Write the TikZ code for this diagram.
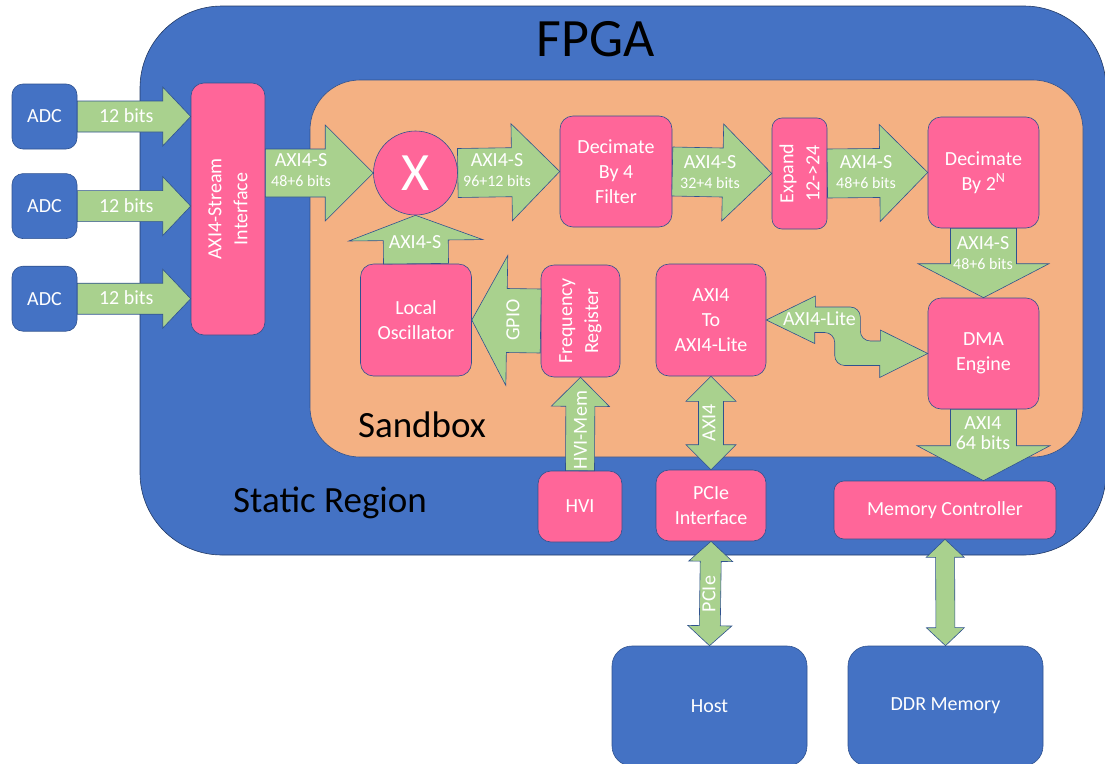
\documentclass[tikz,border=0pt]{standalone}
\usepackage{fontspec}
\setmainfont{Carlito}
\usetikzlibrary{positioning, calc}
\definecolor{fpgablue}{HTML}{4472C4}
\definecolor{boxpink}{HTML}{FF6699}
\definecolor{sandorange}{HTML}{F4B183}
\definecolor{busgreen}{HTML}{A9D18E}
\definecolor{edgeblue}{HTML}{2F528F}
\newcommand{\bitsz}{\fontsize{16}{16}\selectfont}
% block arrow: from, to, half shaft, half head, head length
\newcommand{\busarrow}[5]{%
  \coordinate (hb) at ($(#2)!#5!(#1)$);
  \draw[bus] ($(#1)!#3!90:(#2)$) -- ($(hb)!#3!90:(#2)$) -- ($(hb)!#4!90:(#2)$) -- (#2)
    -- ($(hb)!#4!-90:(#2)$) -- ($(hb)!#3!-90:(#2)$) -- ($(#1)!#3!-90:(#2)$) -- cycle;}
\newcommand{\dbusarrow}[5]{%
  \coordinate (ha) at ($(#1)!#5!(#2)$);
  \coordinate (hb) at ($(#2)!#5!(#1)$);
  \draw[bus] (#1) -- ($(ha)!#4!90:(#2)$) -- ($(ha)!#3!90:(#2)$) -- ($(hb)!#3!90:(#2)$)
    -- ($(hb)!#4!90:(#2)$) -- (#2) -- ($(hb)!#4!-90:(#2)$) -- ($(hb)!#3!-90:(#2)$)
    -- ($(ha)!#3!-90:(#2)$) -- ($(ha)!#4!-90:(#2)$) -- cycle;}

\begin{document}
\begin{tikzpicture}[x=1pt, y=-1pt,
    box/.style={draw=edgeblue, line width=0.6pt, fill=boxpink, rounded corners=13pt,
      text=white, align=center, inner sep=0pt, font=\fontsize{20}{25}\selectfont},
    ext/.style={box, fill=fpgablue, rounded corners=11pt},
    bus/.style={draw=edgeblue, line width=0.6pt, fill=busgreen},
    buslabel/.style={text=white, align=center, inner sep=0pt, font=\fontsize{20}{20}\selectfont},
    vlabel/.style={buslabel, rotate=90, font=\fontsize{20}{26}\selectfont},
    title/.style={text=black, inner sep=0pt, anchor=base}]
  \useasboundingbox (0,0) rectangle (1105,763);
  \clip (0,0) rectangle (1105,763);

  % regions
  \draw[draw=edgeblue!70!black, line width=0.6pt, fill=fpgablue, rounded corners=82pt]
    (140,6) rectangle (1106,555);
  \draw[draw=edgeblue, line width=0.6pt, fill=sandorange, rounded corners=50pt]
    (310,80) rectangle (1083,457);
  \node[title, font=\fontsize{54}{54}\selectfont] (fpgat) at (596,56) {FPGA};
  \node[title, font=\fontsize{37}{37}\selectfont] (sandt) at (422,437) {Sandbox};
  \node[title, font=\fontsize{37}{37}\selectfont] (statt) at (330,512) {Static Region};

  % blocks
  \node[ext, minimum width=65, minimum height=65] (adc1) at (44.5,116.5) {ADC};
  \node[ext, minimum width=65, minimum height=65, below=24pt of adc1] (adc2) {ADC};
  \node[ext, minimum width=65, minimum height=65, below=27pt of adc2] (adc3) {ADC};
  \node[box, minimum width=74, minimum height=252] (axis) at (228,209) {};
  \node[vlabel] (axist) at (axis) {AXI4-Stream\\Interface};
  \node[box, circle, minimum size=84] (mix) at (415.5,173) {\fontsize{54}{54}\selectfont X};
  \node[box, minimum width=112, minimum height=111] (dec4) at (616,171.5) {Decimate\\By 4\\Filter};
  \node[box, minimum width=55, minimum height=111, rounded corners=10pt] (expand) at (799.5,173.5) {};
  \node[vlabel] (expandt) at (expand) {Expand\\12->24};
  \node[box, minimum width=111, minimum height=111] (dec2n) at (983.5,172.5) {Decimate\\By 2\textsuperscript{N}};
  \node[box, minimum width=111, minimum height=111] (dma) at (983.5,353.5) {DMA\\Engine};
  \node[box, minimum width=222, minimum height=58, rounded corners=10pt] (memctl) at (945,510) {Memory Controller};
  \node[box, minimum width=110, minimum height=112] (axilite) at (711,320) {AXI4\\To\\AXI4-Lite};
  \node[box, minimum width=110, minimum height=71] (pcie) at (711,505.5) {PCIe\\Interface};
  \node[box, minimum width=84, minimum height=71] (hvi) at (580,506.5) {HVI};
  \node[box, minimum width=79, minimum height=112] (freq) at (580.5,321) {};
  \node[vlabel] (freqt) at (freq) {Frequency\\Register};
  \node[box, minimum width=111, minimum height=112] (lo) at (416,320) {Local\\Oscillator};
  \node[ext, minimum width=195, minimum height=120, rounded corners=20pt] (host) at (709.5,706) {Host};
  \node[ext, minimum width=195, minimum height=120, rounded corners=20pt] (ddr) at (945.5,706) {DDR Memory};

  % buses
  \foreach \i in {1,2,3} {
    \coordinate (adcin\i) at (adc\i.east -| axis.west);
    \busarrow{adc\i.east}{adcin\i}{15.5pt}{29.5pt}{28pt}
    \node[buslabel, anchor=base] (bits\i) at ($(adc\i.east)+(49,6)$) {12 bits};
  }
  \coordinate (axo) at (axis.east |- mix.west);
  \coordinate (dmo) at (dma.south |- memctl.north);
  \busarrow{axo}{mix.west}{24pt}{48pt}{48pt}
  \busarrow{mix.east}{dec4.west}{24.5pt}{48.5pt}{48pt}
  \busarrow{dec4.east}{expand.west}{24.5pt}{48.5pt}{49pt}
  \busarrow{expand.east}{dec2n.west}{24.5pt}{48.5pt}{48pt}
  \busarrow{dec2n.south}{dma.north}{33pt}{65.5pt}{34pt}
  \busarrow{dma.south}{dmo}{33pt}{66.5pt}{35pt}
  \busarrow{lo.north}{mix.south}{32.5pt}{67pt}{25pt}
  \busarrow{freq.west}{lo.east}{32pt}{65pt}{35pt}
  \busarrow{hvi.north}{freq.south}{14.5pt}{29pt}{29pt}
  \dbusarrow{axilite.south}{pcie.north}{12.5pt}{25pt}{25pt}
  \dbusarrow{pcie.south}{host.north}{10.5pt}{22pt}{20pt}
  \dbusarrow{memctl.south}{ddr.north}{9.5pt}{19pt}{18pt}
  \draw[bus] (axilite.east) -- ++(49,-24) -- ++(0,11) [rounded corners=10pt] -- ++(45,0)
    -- ++(0,34) [sharp corners] -- ++(20,0) -- ++(0,-11) -- (dma.west) -- ++(-48,24)
    -- ++(0,-12) [rounded corners=10pt] -- ++(-45,0) -- ++(0,-33) [sharp corners]
    -- ++(-20,0) -- ++(0,11) -- cycle;

  % bus labels
  \node[buslabel] (lin) at (301,170) {AXI4-S\\\bitsz 48+6 bits};
  \node[buslabel] (lmix) at (497,170) {AXI4-S\\\bitsz 96+12 bits};
  \node[buslabel] (ldec4) at (710,172) {AXI4-S\\\bitsz 32+4 bits};
  \node[buslabel] (lexp) at (866,172) {AXI4-S\\\bitsz 48+6 bits};
  \node[buslabel] (ld2n) at (983,253) {AXI4-S\\\bitsz 48+6 bits};
  \node[buslabel, font=\fontsize{20}{19.5}\selectfont] (ldma) at (983,433) {AXI4\\64 bits};
  \node[buslabel] (llo) at (415,242) {AXI4-S};
  \node[buslabel] (llite) at (819.5,319) {AXI4-Lite};
  \node[vlabel] (lgpio) at (513,320) {GPIO};
  \node[vlabel] (lhvi) at (580.5,430) {HVI-Mem};
  \node[vlabel] (laxi) at (709,423) {AXI4};
  \node[vlabel] (lpcie) at (709,594) {PCIe};
\end{tikzpicture}
\end{document}
